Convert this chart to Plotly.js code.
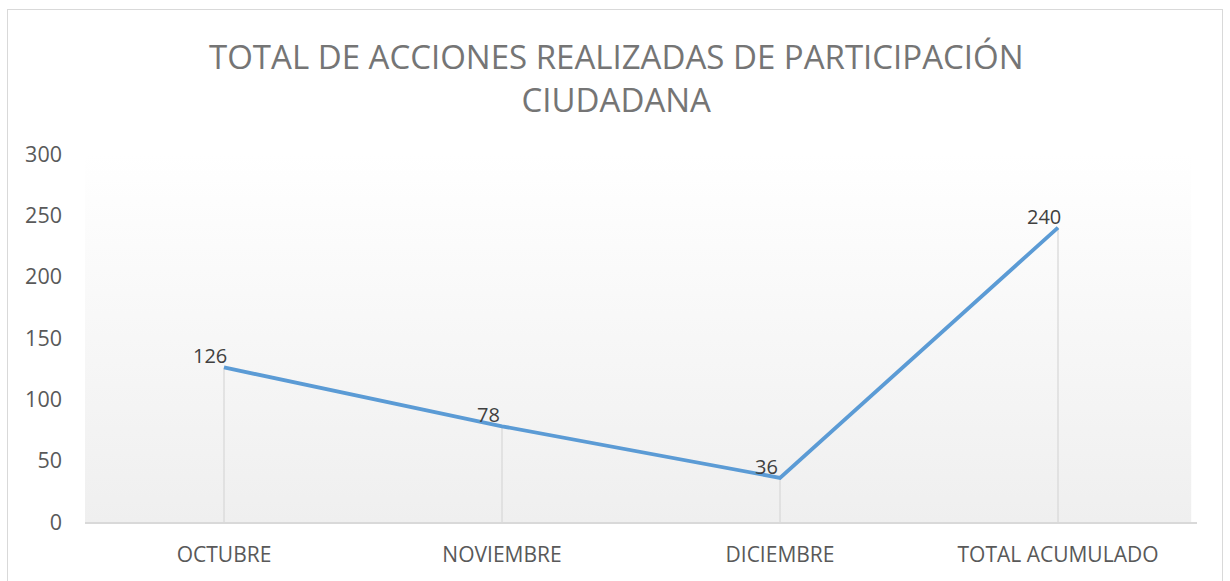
<!DOCTYPE html>
<html>
<head>
<meta charset="utf-8">
<script src="https://cdn.plot.ly/plotly-3.0.1.min.js"></script>
<style>
  html, body { margin: 0; padding: 0; background: #ffffff; overflow: hidden; }
  #chart { width: 1230px; height: 581px; }
  #frame { position: absolute; left: 7px; top: 9px; width: 1214px; height: 620px; border: 1.5px solid #d9d9d9; pointer-events: none; }
</style>
</head>
<body>
<div id="chart"></div>
<div id="frame"></div>
<script>
const categories = ["OCTUBRE", "NOVIEMBRE", "DICIEMBRE", "TOTAL ACUMULADO"];
const values = [126, 78, 36, 240];
const yTicks = [0, 50, 100, 150, 200, 250, 300];
const titleText = "TOTAL DE ACCIONES REALIZADAS DE PARTICIPACIÓN<br>CIUDADANA";

const FONT = "Open Sans, DejaVu Sans, sans-serif";

// drop lines from each point down to the axis
const dropX = [], dropY = [];
categories.forEach((c, i) => { dropX.push(c, c, null); dropY.push(0, values[i], null); });

const dropTrace = {
  x: dropX, y: dropY, type: "scatter", mode: "lines",
  line: { color: "#d9d9d9", width: 1.3 }, hoverinfo: "skip", showlegend: false
};
const lineTrace = {
  x: categories, y: values, type: "scatter", mode: "lines",
  line: { color: "#5b9bd5", width: 3.8 }, showlegend: false
};

const annotations = categories.map((c, i) => ({
  x: c, y: values[i], xref: "x", yref: "y",
  text: String(values[i]), showarrow: false,
  xanchor: "center", yanchor: "bottom", xshift: -14, yshift: -4,
  font: { family: FONT, size: 20, color: "#404040" }
}));

annotations.push({
  xref: "paper", yref: "paper", x: 0.478, y: 1, xanchor: "center", yanchor: "bottom",
  yshift: 30, showarrow: false, text: titleText, align: "center",
  font: { family: FONT, size: 33, color: "#757575" }
});

const gradSvg = '<svg xmlns="http://www.w3.org/2000/svg" width="100" height="100" preserveAspectRatio="none">' +
  '<defs><linearGradient id="g" x1="0" y1="0" x2="0" y2="1">' +
  '<stop offset="0" stop-color="#ffffff"/><stop offset="1" stop-color="#efefef"/></linearGradient></defs>' +
  '<rect width="100" height="100" fill="url(#g)"/></svg>';
const gradUri = "data:image/svg+xml;charset=utf-8," + encodeURIComponent(gradSvg);

const layout = {
  width: 1230, height: 581,
  margin: { l: 85, r: 33, t: 154, b: 59 },
  paper_bgcolor: "rgba(0,0,0,0)",
  plot_bgcolor: "rgba(0,0,0,0)",
  xaxis: {
    type: "category", range: [-0.5, 3.5],
    showline: true, linecolor: "#d9d9d9", linewidth: 1.5,
    showgrid: false, zeroline: false, ticks: "",
    ticklabelstandoff: 13,
    tickfont: { family: FONT, size: 21, color: "#595959" }
  },
  yaxis: {
    range: [0, 300], tickvals: yTicks, ticktext: yTicks.map(String),
    showgrid: false, zeroline: false, showline: false, ticks: "",
    ticklabelstandoff: 22,
    tickfont: { family: FONT, size: 21.5, color: "#595959" }
  },
  images: [{
    source: gradUri, xref: "paper", yref: "paper", x: 0, y: 1, sizex: 0.995, sizey: 1,
    sizing: "stretch", layer: "below", xanchor: "left", yanchor: "top"
  }],
  annotations: annotations
};

Plotly.newPlot("chart", [dropTrace, lineTrace], layout, { displayModeBar: false, staticPlot: true });
</script>
</body>
</html>
